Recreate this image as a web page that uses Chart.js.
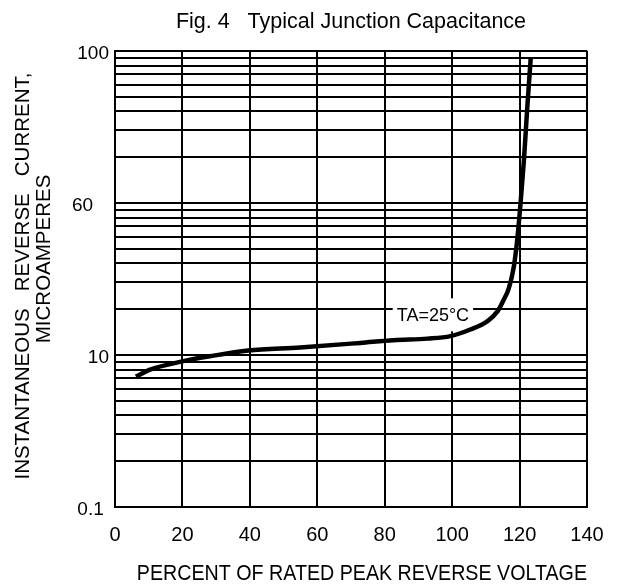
<!DOCTYPE html>
<html>
<head>
<meta charset="utf-8">
<title>Fig. 4 Typical Junction Capacitance</title>
<script src="https://cdn.jsdelivr.net/npm/chart.js@4/dist/chart.umd.min.js"></script>
<style>
  html, body { margin: 0; padding: 0; background: #fff; }
  #chart { display: block; }
</style>
</head>
<body>
<canvas id="chart" width="624" height="588"></canvas>
<script>
// curve: percent of rated voltage -> current (log axis units)
const voltagePercent = [6.2, 10.4, 19.3, 28.2, 39.5, 54.9, 72.8, 82.6, 92.7, 99.5, 105.4, 110.5, 113.5, 115.2, 116.8, 118.3, 119.3, 120.3, 121.3, 122.3, 123.3];
const reverseCurrent = [0.72, 0.80, 0.90, 0.98, 1.07, 1.12, 1.20, 1.25, 1.28, 1.33, 1.47, 1.67, 1.94, 2.28, 2.74, 3.81, 5.7, 10.0, 19.2, 43, 89];

const xTickValues = [0, 20, 40, 60, 80, 100, 120, 140];

// decades of the log grid and the (odd) labels printed on them
const yDecades = [0.1, 1, 10];
const yLabelValues = [0.1, 1, 10, 100];
const yTickLabels = ['0.1 ', '10', '60   ', '100'];

const noteText = 'TA=25°C';
const notePoint = { x: 94.3, y: 1.85 };

const FONT = '"Liberation Sans", Arial, sans-serif';

const buildLogGrid = () => {
  const values = [];
  yDecades.forEach((d) => {
    for (let m = 1; m <= 9; m++) values.push(Number((m * d).toPrecision(6)));
  });
  values.push(100);
  return values;
};

const yLabelFor = (value) => {
  const i = yLabelValues.findIndex((v) => Math.abs(v - value) < 1e-6);
  return i >= 0 ? yTickLabels[i] : '';
};

// white box behind the temperature note, drawn over the grid but under the curve
const notePlugin = {
  id: 'note',
  beforeDatasetsDraw(chart) {
    const { ctx, scales } = chart;
    const cx = scales.x.getPixelForValue(notePoint.x);
    const cy = scales.y.getPixelForValue(notePoint.y);
    ctx.save();
    ctx.font = `18px ${FONT}`;
    const w = ctx.measureText(noteText).width;
    ctx.fillStyle = '#fff';
    ctx.fillRect(cx - w / 2 - 4, cy - 16, w + 8, 33);
    ctx.fillStyle = '#000';
    ctx.textAlign = 'center';
    ctx.textBaseline = 'middle';
    ctx.fillText(noteText, cx, cy + 2);
    ctx.restore();
  }
};

new Chart(document.getElementById('chart'), {
  type: 'line',
  data: {
    datasets: [{
      data: voltagePercent.map((x, i) => ({ x, y: reverseCurrent[i] })),
      borderColor: '#000',
      borderWidth: 4.5,
      pointRadius: 0,
      cubicInterpolationMode: 'monotone',
      fill: false
    }]
  },
  options: {
    responsive: false,
    animation: false,
    devicePixelRatio: 1,
    layout: { padding: { left: 0, right: 37, top: 0, bottom: 0 } },
    plugins: {
      legend: { display: false },
      tooltip: { enabled: false },
      title: {
        display: true,
        fullSize: false,
        text: 'Fig. 4   Typical Junction Capacitance',
        color: '#000',
        font: { family: FONT, size: 21.5, weight: 'normal', lineHeight: 1.2 },
        padding: { top: 9, bottom: 16 }
      }
    },
    scales: {
      x: {
        type: 'linear',
        min: 0,
        max: 140,
        afterBuildTicks: (scale) => { scale.ticks = xTickValues.map((value) => ({ value })); },
        afterFit: (scale) => { scale.height = 81; },
        grid: { color: '#000', lineWidth: 2, drawTicks: false },
        border: { color: '#000', width: 2 },
        ticks: {
          autoSkip: false,
          maxRotation: 0,
          padding: 16,
          color: '#000',
          font: { family: FONT, size: 20, lineHeight: 1.2 },
          callback: (value) => String(value)
        },
        title: {
          display: true,
          text: '    PERCENT OF RATED PEAK REVERSE VOLTAGE',
          color: '#000',
          font: { family: FONT, size: 21.5, lineHeight: 1.2 },
          padding: { top: 0, bottom: 1 }
        }
      },
      y: {
        type: 'logarithmic',
        min: 0.1,
        max: 100,
        afterBuildTicks: (scale) => { scale.ticks = buildLogGrid().map((value) => ({ value })); },
        afterFit: (scale) => { scale.width = 115; },
        grid: { color: '#000', lineWidth: 2, drawTicks: false },
        border: { color: '#000', width: 2 },
        ticks: {
          autoSkip: false,
          padding: 6,
          labelOffset: 3,
          color: '#000',
          font: { family: FONT, size: 19 },
          callback: (value) => yLabelFor(value)
        },
        title: {
          display: true,
          text: [' INSTANTANEOUS   REVERSE   CURRENT,', '       MICROAMPERES'],
          color: '#000',
          font: { family: FONT, size: 20.5, lineHeight: '21px' },
          padding: { top: 13, bottom: 0 }
        }
      }
    }
  },
  plugins: [notePlugin]
});
</script>
</body>
</html>
